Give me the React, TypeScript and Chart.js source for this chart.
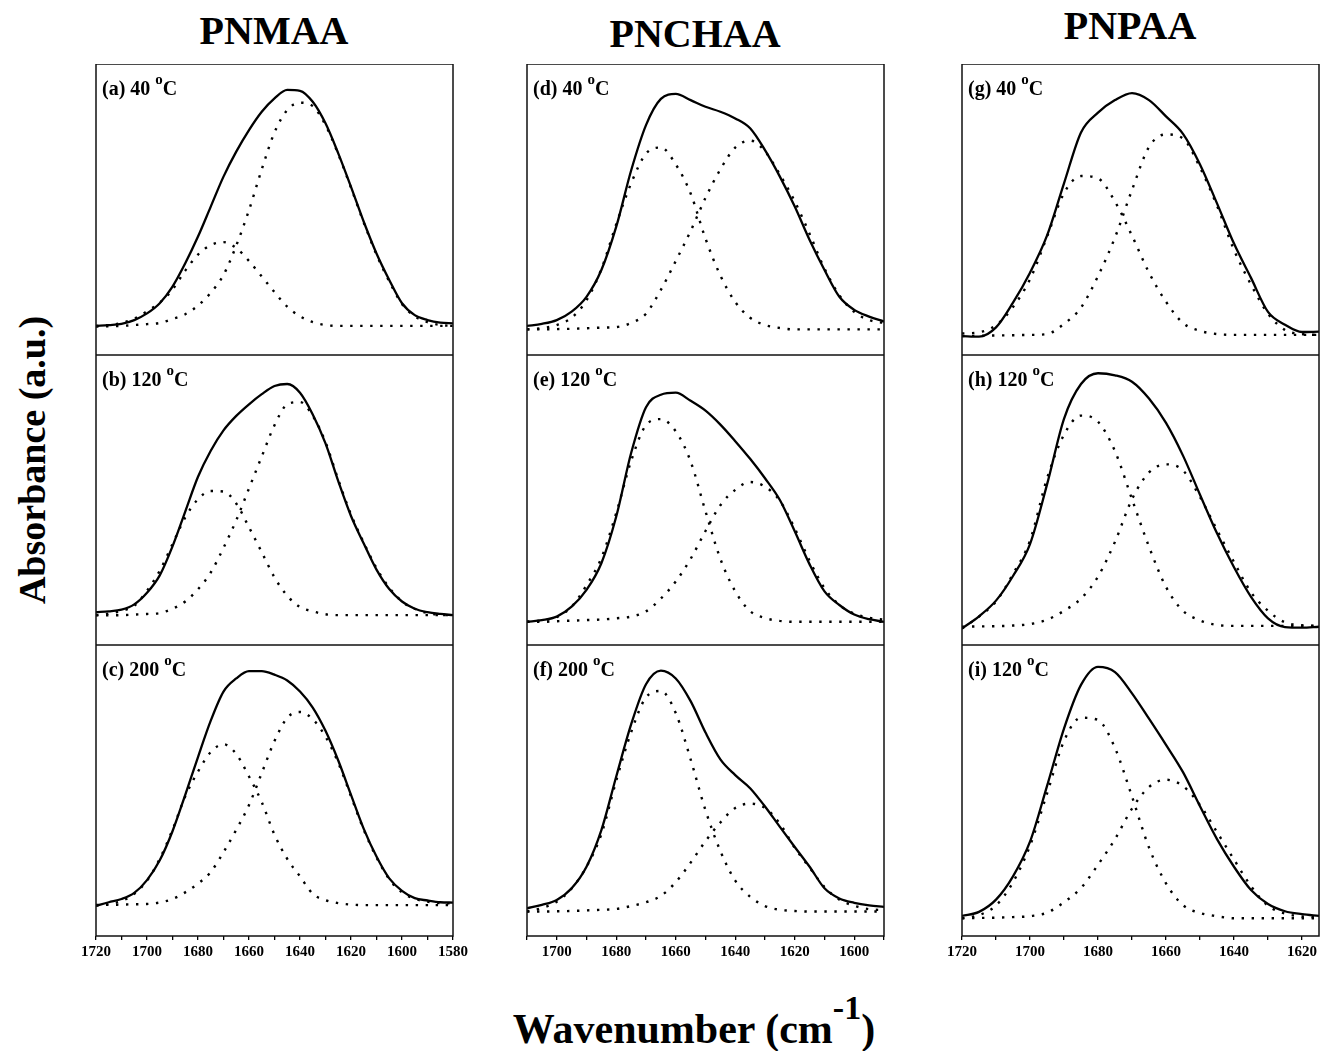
import React, { useEffect, useRef } from 'react';
import { Chart, registerables } from 'chart.js';

Chart.register(...registerables);

// ---- wavenumber grids (cm^-1) ----
const wnPNMAA = [1720, 1715, 1710, 1705, 1700, 1695, 1690, 1685, 1680, 1675, 1670, 1665, 1660, 1655, 1650, 1645, 1640, 1635, 1630, 1625, 1620, 1615, 1610, 1605, 1600, 1595, 1590, 1585, 1580];
const wnPNCHAA = [1710, 1705, 1700, 1695, 1690, 1685, 1680, 1675, 1670, 1665, 1660, 1655, 1650, 1645, 1640, 1635, 1630, 1625, 1620, 1615, 1610, 1605, 1600, 1595, 1590];
const wnPNPAA = [1720, 1715, 1710, 1705, 1700, 1695, 1690, 1685, 1680, 1675, 1670, 1665, 1660, 1655, 1650, 1645, 1640, 1635, 1630, 1625, 1620, 1615];

// ---- tick labels ----
const tickLabelsPNMAA = [1720, 1700, 1680, 1660, 1640, 1620, 1600, 1580];
const tickLabelsPNCHAA = [1700, 1680, 1660, 1640, 1620, 1600];
const tickLabelsPNPAA = [1720, 1700, 1680, 1660, 1640, 1620];

// ---- PNMAA ----
const aSum = [10.0, 10.3, 10.7, 12.0, 14.3, 17.8, 23.5, 31.5, 40.7, 51.0, 61.3, 69.9, 77.3, 83.6, 88.2, 91.1, 90.8, 87.0, 79.6, 69.3, 57.8, 45.8, 34.9, 25.8, 17.8, 13.7, 12.0, 11.1, 10.9];
const aPeak1 = [10.0, 10.3, 11.0, 12.5, 15.0, 18.0, 22.5, 29.0, 34.5, 37.8, 38.8, 36.8, 32.3, 27.0, 21.6, 16.6, 13.3, 11.3, 10.3, 10.0, 10.0, 10.0, 10.0, 10.0, 10.0, 10.0, 10.0, 10.0, 10.0];
const aPeak2 = [9.8, 9.9, 10.0, 10.3, 10.6, 11.0, 12.4, 14.0, 17.0, 21.4, 27.5, 37.6, 49.8, 63.8, 76.5, 84.2, 86.7, 85.5, 79.0, 69.0, 57.5, 45.5, 34.5, 25.3, 17.5, 13.3, 11.3, 10.3, 10.0];

const bSum = [11.3, 11.6, 12.2, 14.0, 18.0, 24.0, 34.0, 46.0, 58.0, 67.0, 74.0, 79.0, 83.0, 86.5, 89.3, 90.0, 87.0, 79.5, 69.5, 56.5, 44.5, 35.0, 26.0, 19.3, 15.0, 12.5, 11.3, 10.7, 10.3];
const bPeak1 = [10.3, 10.8, 11.8, 13.5, 18.7, 25.6, 34.8, 44.0, 50.3, 53.1, 52.9, 48.8, 40.6, 32.0, 23.3, 17.0, 13.1, 11.6, 10.6, 10.3, 10.3, 10.3, 10.3, 10.3, 10.3, 10.3, 10.3, 10.3, 10.3];
const bPeak2 = [10.2, 10.2, 10.3, 10.5, 10.7, 11.0, 12.5, 15.0, 19.2, 25.0, 33.5, 43.0, 54.0, 65.0, 75.8, 83.0, 83.8, 79.0, 70.0, 57.0, 45.0, 35.3, 26.5, 19.8, 15.0, 12.5, 11.0, 10.4, 10.2];

const cSum = [10.4, 11.6, 12.7, 14.8, 19.2, 26.0, 36.0, 48.5, 61.5, 74.0, 84.0, 88.5, 91.0, 91.0, 89.8, 87.8, 84.0, 78.5, 70.5, 60.3, 48.5, 36.8, 27.3, 19.8, 15.5, 13.0, 12.2, 11.6, 11.5];
const cPeak1 = [10.4, 11.0, 12.0, 14.5, 19.0, 26.5, 36.5, 48.0, 56.5, 63.2, 65.9, 62.5, 54.8, 46.0, 34.8, 26.5, 20.5, 14.5, 12.3, 11.3, 10.8, 10.6, 10.6, 10.6, 10.6, 10.6, 10.6, 10.6, 10.6];
const cPeak2 = [10.7, 10.7, 10.8, 10.9, 11.0, 11.5, 12.7, 15.0, 18.0, 22.0, 28.8, 36.5, 45.0, 56.0, 67.0, 75.0, 77.0, 74.5, 68.5, 59.5, 48.0, 36.5, 27.0, 19.5, 15.0, 12.8, 11.8, 11.3, 11.2];

// ---- PNCHAA ----
const dSum = [10.0, 10.7, 12.0, 14.9, 20.0, 29.2, 44.1, 63.4, 79.0, 88.0, 89.7, 87.6, 85.3, 83.6, 81.3, 77.9, 70.4, 61.3, 51.0, 39.5, 29.2, 20.0, 15.5, 13.2, 11.5];
const dPeak1 = [8.8, 9.2, 10.3, 12.8, 18.8, 29.5, 45.0, 59.0, 69.2, 71.3, 65.5, 55.5, 40.0, 27.3, 18.2, 12.8, 10.3, 9.3, 8.8, 8.8, 8.8, 8.8, 8.8, 8.8, 8.8];
const dPeak2 = [8.8, 8.8, 8.9, 9.0, 9.2, 9.4, 9.6, 11.0, 14.2, 22.4, 32.3, 42.6, 54.0, 63.8, 71.3, 73.7, 70.0, 62.0, 52.8, 41.6, 29.7, 20.5, 14.8, 12.0, 11.0];

const eSum = [8.0, 8.6, 9.8, 13.2, 19.0, 28.2, 44.3, 66.2, 82.0, 86.3, 87.0, 84.2, 80.8, 76.0, 70.3, 64.2, 57.5, 50.0, 39.2, 27.8, 18.5, 13.8, 10.5, 8.9, 8.0];
const ePeak1 = [8.0, 8.5, 9.6, 13.2, 20.6, 30.0, 45.5, 63.5, 75.8, 77.9, 73.7, 63.3, 46.1, 29.7, 18.5, 11.7, 9.3, 8.3, 8.0, 8.0, 8.0, 8.0, 8.0, 8.0, 8.0];
const ePeak2 = [8.0, 8.0, 8.2, 8.4, 8.6, 8.8, 9.2, 9.8, 11.6, 16.0, 21.9, 29.7, 39.3, 48.2, 53.5, 56.2, 54.6, 49.7, 40.2, 29.0, 19.6, 13.8, 10.8, 9.4, 8.7];

const fSum = [9.5, 10.7, 12.4, 16.4, 23.8, 36.4, 54.8, 72.7, 86.5, 91.2, 88.5, 80.7, 69.9, 60.7, 55.3, 50.8, 44.5, 37.5, 30.6, 23.8, 16.4, 12.9, 11.4, 10.5, 10.0];
const fPeak1 = [8.4, 9.6, 11.8, 16.3, 23.8, 35.0, 53.4, 70.0, 82.0, 84.2, 76.6, 60.7, 43.2, 29.2, 19.0, 13.5, 10.3, 9.0, 8.6, 8.4, 8.4, 8.4, 8.4, 8.4, 8.4];
const fPeak2 = [8.4, 8.4, 8.5, 8.6, 8.8, 9.0, 9.3, 10.3, 11.6, 13.8, 18.5, 25.2, 32.6, 39.0, 44.0, 45.5, 44.0, 38.6, 30.3, 23.5, 16.8, 12.5, 10.4, 9.2, 8.9];

// ---- PNPAA ----
const gSum = [6.5, 6.3, 9.5, 18.0, 28.3, 41.0, 59.0, 76.5, 83.3, 87.6, 90.0, 87.6, 82.0, 76.0, 65.5, 52.1, 38.3, 26.5, 14.8, 10.4, 7.9, 8.0];
const gPeak1 = [7.4, 7.8, 10.2, 16.5, 26.0, 40.6, 55.6, 61.5, 60.7, 52.7, 41.0, 28.3, 18.3, 11.0, 8.3, 7.2, 6.9, 6.9, 6.9, 6.9, 6.9, 6.9];
const gPeak2 = [6.5, 6.6, 6.7, 6.8, 6.9, 7.2, 10.7, 16.3, 27.1, 40.4, 56.7, 71.5, 75.8, 74.4, 64.4, 51.3, 36.1, 24.2, 14.2, 8.6, 7.2, 6.9];

const hSum = [5.7, 9.9, 15.3, 23.8, 34.8, 55.3, 78.0, 90.0, 93.7, 93.0, 90.8, 85.0, 76.6, 65.3, 51.8, 38.5, 26.8, 16.6, 9.2, 6.2, 6.0, 6.3];
const hPeak1 = [5.7, 9.8, 15.0, 24.5, 36.0, 57.4, 72.5, 79.1, 77.0, 66.8, 50.3, 33.9, 20.0, 11.8, 8.5, 6.9, 6.6, 6.6, 6.6, 6.6, 6.6, 6.6];
const hPeak2 = [6.3, 6.4, 6.5, 6.7, 7.2, 8.7, 11.8, 16.0, 23.6, 35.6, 50.3, 59.5, 62.3, 60.2, 51.0, 39.7, 28.6, 18.2, 11.8, 7.8, 6.8, 6.6];

const iSum = [6.9, 8.3, 12.5, 20.5, 32.4, 51.5, 71.3, 86.3, 92.5, 90.7, 83.4, 74.7, 65.7, 56.3, 44.6, 33.3, 23.8, 15.8, 11.0, 8.5, 7.5, 6.9];
const iPeak1 = [6.1, 7.2, 10.5, 18.5, 31.0, 48.9, 67.0, 75.0, 74.2, 64.6, 47.9, 30.4, 18.1, 10.6, 7.9, 6.8, 6.1, 6.1, 6.1, 6.1, 6.1, 6.1];
const iPeak2 = [6.1, 6.2, 6.3, 6.5, 6.8, 8.0, 11.6, 16.5, 24.5, 33.3, 43.8, 51.2, 53.7, 51.5, 45.0, 35.7, 26.3, 17.1, 10.4, 7.7, 6.7, 6.4];

const columnTitles = ['PNMAA', 'PNCHAA', 'PNPAA'];
const panelLetters = ['a', 'b', 'c', 'd', 'e', 'f', 'g', 'h', 'i'];
const panelTemps = ['40', '120', '200', '40', '120', '200', '40', '120', '120'];

// ---- layout (pixels) ----
const COL_LEFT = [96, 527, 962];
const PANEL_W = 357;
const ROW_TOP = [64, 355, 645];
const ROW_H = [291, 290, 291];
const PAD = 24;
const AXIS_H = 40;
const SERIF = '"Liberation Serif", "Times New Roman", serif';

const columnX = [wnPNMAA, wnPNCHAA, wnPNPAA];
const columnRange: [number, number][] = [[1580, 1720], [1590, 1710], [1615, 1720]];
const columnTicks = [tickLabelsPNMAA, tickLabelsPNCHAA, tickLabelsPNPAA];
const panelSeries = [
  [aSum, aPeak1, aPeak2], [bSum, bPeak1, bPeak2], [cSum, cPeak1, cPeak2],
  [dSum, dPeak1, dPeak2], [eSum, ePeak1, ePeak2], [fSum, fPeak1, fPeak2],
  [gSum, gPeak1, gPeak2], [hSum, hPeak1, hPeak2], [iSum, iPeak1, iPeak2],
];

const framePlugin = {
  id: 'frame',
  afterDraw(chart: any) {
    const { ctx, chartArea } = chart;
    ctx.save();
    ctx.strokeStyle = '#111';
    ctx.lineWidth = 1.5;
    ctx.strokeRect(chartArea.left, chartArea.top, chartArea.right - chartArea.left, chartArea.bottom - chartArea.top);
    ctx.restore();
  },
};

function Panel({ index }: { index: number }) {
  const ref = useRef<HTMLCanvasElement | null>(null);
  const col = Math.floor(index / 3);
  const row = index % 3;
  const bottom = row === 2;
  const h = ROW_H[row] + (bottom ? AXIS_H : 0);

  useEffect(() => {
    if (!ref.current) return;
    const xs = columnX[col];
    const [sum, p1, p2] = panelSeries[index];
    const pts = (ys: number[]) => xs.map((x, i) => ({ x, y: ys[i] }));
    const labelSet = columnTicks[col];
    const xScale: any = {
      type: 'linear',
      min: columnRange[col][0],
      max: columnRange[col][1],
      reverse: true,
      display: bottom,
      border: { display: false },
      grid: { display: true, drawOnChartArea: false, drawTicks: true, tickLength: 4, color: '#000', lineWidth: 1.3 },
      ticks: {
        stepSize: 10,
        includeBounds: false,
        autoSkip: false,
        maxRotation: 0,
        padding: 3,
        color: '#000',
        font: { family: SERIF, weight: 'bold', size: 15 },
        callback: (v: any) => (labelSet.includes(Number(v)) ? String(v) : ''),
      },
    };
    if (bottom) xScale.afterFit = (scale: any) => { scale.height = AXIS_H; };
    const dotted = { borderColor: '#000', borderWidth: 2.4, borderDash: [2.4, 7.6], pointRadius: 0, cubicInterpolationMode: 'monotone', fill: false };
    const chart = new Chart(ref.current, {
      type: 'line',
      data: {
        datasets: [
          { data: pts(p1), ...dotted },
          { data: pts(p2), ...dotted },
          { data: pts(sum), borderColor: '#000', borderWidth: 2.3, pointRadius: 0, cubicInterpolationMode: 'monotone', fill: false },
        ],
      },
      options: {
        animation: false,
        responsive: false,
        events: [],
        layout: { padding: { left: PAD, right: PAD, top: 0, bottom: 0 } },
        plugins: { legend: { display: false }, tooltip: { enabled: false } },
        scales: {
          x: xScale,
          y: { min: 0, max: 100, display: false },
        },
      },
      plugins: [framePlugin],
    } as any);
    return () => chart.destroy();
  }, []);

  return (
    <canvas
      ref={ref}
      width={PANEL_W + 2 * PAD}
      height={h}
      style={{ position: 'absolute', left: COL_LEFT[col] - PAD, top: ROW_TOP[row], width: PANEL_W + 2 * PAD, height: h }}
    />
  );
}

function PanelLabel({ index }: { index: number }) {
  const col = Math.floor(index / 3);
  const row = index % 3;
  return (
    <div
      style={{
        position: 'absolute',
        left: COL_LEFT[col] + 6,
        top: ROW_TOP[row] + 14,
        fontFamily: SERIF,
        fontWeight: 'bold',
        fontSize: 20,
        lineHeight: '20px',
        whiteSpace: 'nowrap',
        color: '#000',
      }}
    >
      ({panelLetters[index]}) {panelTemps[index]}{' '}
      <span style={{ fontSize: 15, position: 'relative', top: -11 }}>o</span>C
    </div>
  );
}

const titleCenters = [274, 695, 1130];
const titleBaselines = [44, 47, 39];

export default function App() {
  return (
    <div style={{ position: 'absolute', left: 0, top: 0, width: 1320, height: 1051, overflow: 'hidden', background: '#fff' }}>
      {columnTitles.map((t, i) => (
        <div
          key={t}
          style={{
            position: 'absolute',
            left: titleCenters[i] - 150,
            width: 300,
            top: titleBaselines[i] - 33.5,
            textAlign: 'center',
            fontFamily: SERIF,
            fontWeight: 'bold',
            fontSize: 40,
            lineHeight: '40px',
            color: '#000',
          }}
        >
          {t}
        </div>
      ))}
      {panelLetters.map((_, i) => <Panel key={'p' + i} index={i} />)}
      {panelLetters.map((_, i) => <PanelLabel key={'l' + i} index={i} />)}
      <div
        style={{
          position: 'absolute',
          left: 32 - 200,
          top: 460 - 24,
          width: 400,
          height: 48,
          lineHeight: '48px',
          textAlign: 'center',
          transform: 'rotate(-90deg)',
          fontFamily: SERIF,
          fontWeight: 'bold',
          fontSize: 38,
          color: '#000',
          whiteSpace: 'nowrap',
        }}
      >
        Absorbance (a.u.)
      </div>
      <div
        style={{
          position: 'absolute',
          left: 694 - 300,
          width: 600,
          top: 1043 - 35.2,
          textAlign: 'center',
          fontFamily: SERIF,
          fontWeight: 'bold',
          fontSize: 42,
          lineHeight: '42px',
          color: '#000',
          whiteSpace: 'nowrap',
        }}
      >
        Wavenumber (cm<span style={{ fontSize: 34, position: 'relative', top: -24 }}>-1</span>)
      </div>
    </div>
  );
}
